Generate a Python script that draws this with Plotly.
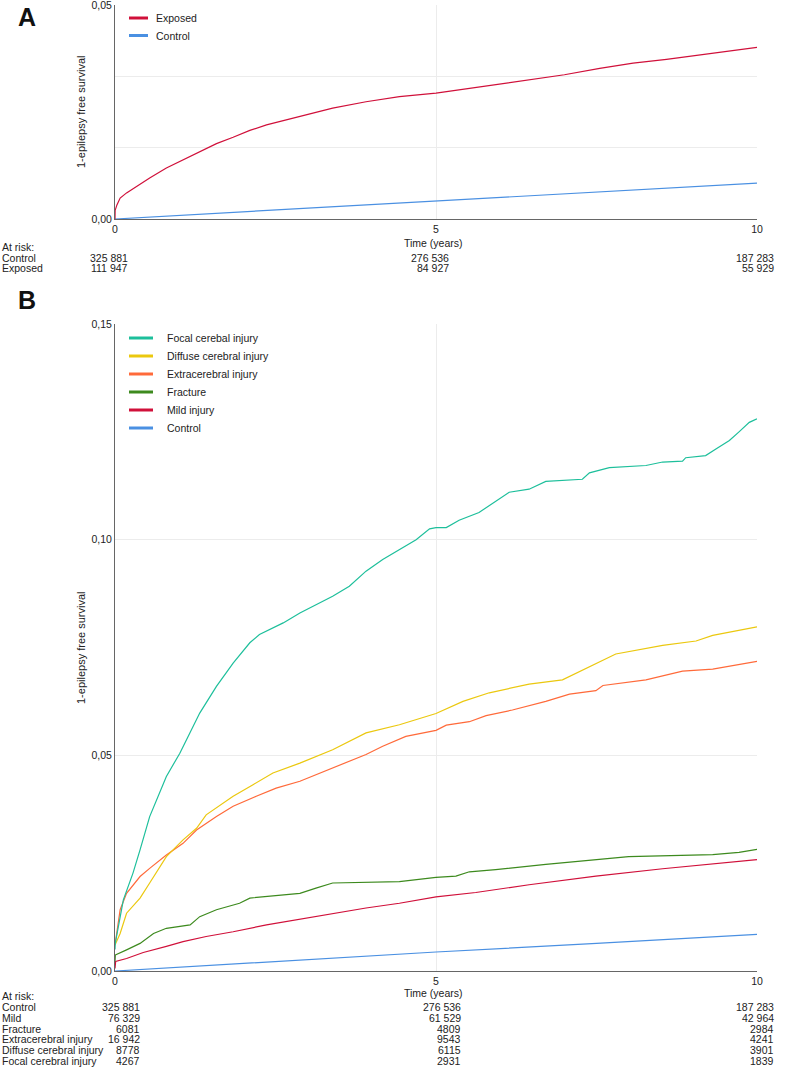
import plotly.graph_objects as go

# ---------------- DATA ----------------
# Panel A
t_exposed = [0, 0.002, 0.03, 0.08, 0.18, 0.28, 0.54, 0.80, 1.06, 1.32, 1.58, 1.84, 2.1, 2.36,
             2.88, 3.39, 3.91, 4.43, 5.0, 6.0, 7.0, 7.55, 8.07, 8.59, 9.11, 9.63, 10]
v_exposed = [0, 0.0020, 0.0033, 0.0049, 0.0061, 0.0071, 0.0096, 0.0119, 0.0138, 0.0158, 0.0176,
             0.0191, 0.0207, 0.0220, 0.0240, 0.0259, 0.0274, 0.0286, 0.0294, 0.0316, 0.0337,
             0.0352, 0.0364, 0.0373, 0.0383, 0.0393, 0.0401]
t_control_a = [0, 2.5, 5, 7.5, 10]
v_control_a = [0, 0.0021, 0.0043, 0.0064, 0.0084]

# Panel B
t_focal = [0, 0.005, 0.13, 0.28, 0.39, 0.54, 0.80, 1.01, 1.32, 1.58, 1.84, 2.1, 2.25, 2.62, 2.88,
           3.13, 3.39, 3.65, 3.91, 4.17, 4.43, 4.69, 4.9, 5.0, 5.16, 5.36, 5.67, 5.93, 6.14, 6.45,
           6.71, 7.28, 7.39, 7.7, 8.27, 8.53, 8.84, 8.89, 9.2, 9.36, 9.57, 9.72, 9.88, 10]
v_focal = [0.005, 0.0065, 0.0165, 0.0227, 0.0281, 0.0358, 0.0451, 0.0505, 0.0598, 0.066, 0.0714,
           0.0761, 0.078, 0.0807, 0.083, 0.085, 0.0869, 0.0892, 0.0927, 0.0954, 0.0977, 0.1,
           0.1025, 0.1028, 0.1028, 0.1045, 0.1063, 0.1088, 0.111, 0.1117, 0.1135, 0.114, 0.1155,
           0.1167, 0.1172, 0.118, 0.1182, 0.119, 0.1195, 0.121, 0.123, 0.125, 0.1272, 0.128]

t_diffuse = [0, 0.08, 0.18, 0.39, 0.54, 0.80, 1.06, 1.27, 1.42, 1.84, 2.15, 2.46, 2.88, 3.39,
             3.91, 4.43, 5.0, 5.42, 5.83, 6.45, 6.97, 7.39, 7.8, 8.53, 9.05, 9.31, 10]
v_diffuse = [0.006, 0.0087, 0.0134, 0.0169, 0.0204, 0.0265, 0.0304, 0.0331, 0.0362, 0.0405,
             0.0432, 0.0459, 0.0482, 0.0513, 0.0552, 0.0571, 0.0597, 0.0625, 0.0645, 0.0665,
             0.0675, 0.0705, 0.0735, 0.0755, 0.0765, 0.0778, 0.0798]

t_extra = [0, 0.08, 0.18, 0.39, 0.54, 0.80, 1.06, 1.27, 1.58, 1.84, 2.2, 2.51, 2.88, 3.39, 3.91,
           4.17, 4.53, 5.0, 5.16, 5.52, 5.78, 6.19, 6.71, 7.08, 7.49, 7.6, 8.27, 8.84, 9.31, 10]
v_extra = [0.006, 0.0142, 0.018, 0.0219, 0.0238, 0.0269, 0.0296, 0.0327, 0.0358, 0.0382, 0.0405,
           0.0424, 0.044, 0.0471, 0.0502, 0.0521, 0.0544, 0.0558, 0.057, 0.0578, 0.0592, 0.0605,
           0.0625, 0.0642, 0.065, 0.0662, 0.0675, 0.0695, 0.07, 0.0718]

t_fracture = [0, 0.005, 0.18, 0.39, 0.6, 0.8, 1.17, 1.32, 1.58, 1.94, 2.1, 2.88, 3.13, 3.39, 4.43,
              5.0, 5.31, 5.52, 5.93, 6.71, 8.0, 9.31, 9.72, 10]
v_fracture = [0.0022, 0.0037, 0.0049, 0.0064, 0.0087, 0.0099, 0.0107, 0.0126, 0.0142, 0.0157,
              0.0169, 0.018, 0.0192, 0.0204, 0.0207, 0.0217, 0.022, 0.023, 0.0235, 0.0247,
              0.0265, 0.027, 0.0275, 0.0282]

t_mild = [0, 0.01, 0.18, 0.44, 0.8, 1.06, 1.42, 1.84, 2.36, 2.88, 3.39, 3.91, 4.43, 5.0, 5.62,
          6.45, 7.49, 8.53, 10]
v_mild = [0.0006, 0.0022, 0.0029, 0.0043, 0.0057, 0.0068, 0.008, 0.0091, 0.0107, 0.012, 0.0134,
          0.0146, 0.0157, 0.0172, 0.0182, 0.02, 0.022, 0.0237, 0.0258]

t_control_b = [0, 2.5, 5, 7.5, 10]
v_control_b = [0, 0.0022, 0.0044, 0.0064, 0.0085]

# Tick labels
x_ticks = [0, 5, 10]
x_ticktext = ["0", "5", "10"]
ya_ticks = [0, 0.05 / 3, 0.1 / 3, 0.05]
ya_ticktext = ["0,00", "", "", "0,05"]
yb_ticks = [0, 0.05, 0.10, 0.15]
yb_ticktext = ["0,00", "0,05", "0,10", "0,15"]

# At-risk tables
risk_a_labels = ["Control", "Exposed"]
risk_a_values = [["325 881", "276 536", "187 283"],
                 ["111 947", "84 927", "55 929"]]
risk_b_labels = ["Control", "Mild", "Fracture", "Extracerebral injury",
                 "Diffuse cerebral injury", "Focal cerebral injury"]
risk_b_values = [["325 881", "276 536", "187 283"],
                 ["76 329", "61 529", "42 964"],
                 ["6081", "4809", "2984"],
                 ["16 942", "9543", "4241"],
                 ["8778", "6115", "3901"],
                 ["4267", "2931", "1839"]]

legend_a = ["Exposed", "Control"]
legend_b = ["Focal cerebal injury", "Diffuse cerebral injury", "Extracerebral injury",
            "Fracture", "Mild injury", "Control"]

# ---------------- STYLE ----------------
W, H = 787, 1067
FONT = "Liberation Sans, Arial, sans-serif"
FS = 10.5
C_RED = "#d0103a"
C_BLUE = "#4a90e2"
C_TEAL = "#1dbf9b"
C_YELLOW = "#ebc80f"
C_ORANGE = "#ff6a3a"
C_GREEN = "#3d8a1e"
TXT = "#222222"
GRID = "#ececec"
AXIS = "#666666"


def px(x):
    return x / W


def py(y):
    return 1 - y / H


fig = go.Figure()

LW = 1.2
# Panel A traces
fig.add_trace(go.Scatter(x=t_control_a, y=v_control_a, mode="lines", line=dict(color=C_BLUE, width=LW),
                         xaxis="x", yaxis="y", showlegend=False))
fig.add_trace(go.Scatter(x=t_exposed, y=v_exposed, mode="lines", line=dict(color=C_RED, width=LW),
                         xaxis="x", yaxis="y", showlegend=False))
# Panel B traces
for t, v, c in [(t_control_b, v_control_b, C_BLUE), (t_mild, v_mild, C_RED),
                (t_fracture, v_fracture, C_GREEN), (t_extra, v_extra, C_ORANGE),
                (t_diffuse, v_diffuse, C_YELLOW), (t_focal, v_focal, C_TEAL)]:
    fig.add_trace(go.Scatter(x=t, y=v, mode="lines", line=dict(color=c, width=LW),
                             xaxis="x2", yaxis="y2", showlegend=False))

xdom = [px(115), px(757)]
common_x = dict(range=[0, 10], tickvals=x_ticks, ticktext=x_ticktext, showgrid=True,
                gridcolor=GRID, gridwidth=1, zeroline=False, showline=True, linecolor=AXIS,
                linewidth=1, ticks="", tickfont=dict(family=FONT, size=FS, color=TXT),
                domain=xdom, fixedrange=True, automargin=False, ticklabeloverflow="allow")
common_y = dict(showgrid=True, gridcolor=GRID, gridwidth=1, zeroline=False, showline=True,
                linecolor=AXIS, linewidth=1, ticks="", tickfont=dict(family=FONT, size=FS, color=TXT),
                fixedrange=True, automargin=False, ticklabeloverflow="allow")

fig.update_layout(
    width=W, height=H,
    margin=dict(l=0, r=0, t=0, b=0, autoexpand=False),
    paper_bgcolor="white", plot_bgcolor="white",
    font=dict(family=FONT, size=FS, color=TXT),
    showlegend=False,
    xaxis=dict(**common_x, anchor="y"),
    yaxis=dict(**common_y, range=[0, 0.05], tickvals=ya_ticks, ticktext=ya_ticktext,
               domain=[py(219), py(5)], anchor="x"),
    xaxis2=dict(**common_x, anchor="y2"),
    yaxis2=dict(**common_y, range=[0, 0.15], tickvals=yb_ticks, ticktext=yb_ticktext,
                domain=[py(971), py(324)], anchor="x2"),
)

ann = []
shapes = []


def text(x, y, s, anchor="left", size=FS, bold=False, angle=0):
    ann.append(dict(xref="paper", yref="paper", x=px(x), y=py(y), text=("<b>%s</b>" % s) if bold else s,
                    showarrow=False, xanchor=anchor, yanchor="middle", textangle=angle,
                    font=dict(family=FONT, size=size, color="#111111" if bold else TXT)))


# Panel letters
text(16, 17, "A", size=25, bold=True)
text(16, 300, "B", size=25, bold=True)

# Axis titles
text(433, 243, "Time (years)", anchor="center")
text(433, 993, "Time (years)", anchor="center")
text(81, 112, "1-epilepsy free survival", anchor="center", angle=-90, size=11)
text(81, 648, "1-epilepsy free survival", anchor="center", angle=-90, size=11)

# Legend A
leg_colors_a = [C_RED, C_BLUE]
for i, (lab, col) in enumerate(zip(legend_a, leg_colors_a)):
    y = 18 + i * 17.5
    shapes.append(dict(type="line", xref="paper", yref="paper", x0=px(129), x1=px(148), y0=py(y), y1=py(y),
                       line=dict(color=col, width=3)))
    text(154, y, lab)

# Legend B
leg_colors_b = [C_TEAL, C_YELLOW, C_ORANGE, C_GREEN, C_RED, C_BLUE]
for i, (lab, col) in enumerate(zip(legend_b, leg_colors_b)):
    y = 338 + i * 18
    shapes.append(dict(type="line", xref="paper", yref="paper", x0=px(129), x1=px(153), y0=py(y), y1=py(y),
                       line=dict(color=col, width=3)))
    text(165, y, lab)

# At-risk table A
text(0, 247, "At risk:")
cols_a = [130, 451, 776]
for i, lab in enumerate(risk_a_labels):
    y = 257.5 + i * 10.8
    text(0, y, lab)
    for j, v in enumerate(risk_a_values[i]):
        text(cols_a[j], y, v, anchor="right")

# At-risk table B
text(0, 996, "At risk:")
cols_b = [142, 463, 776]
for i, lab in enumerate(risk_b_labels):
    y = 1007 + i * 10.8
    text(0, y, lab)
    for j, v in enumerate(risk_b_values[i]):
        text(cols_b[j], y, v, anchor="right")

fig.update_layout(annotations=ann, shapes=shapes)
fig.write_html(
    "out.html",
    config={"displayModeBar": False, "staticPlot": True},
    post_script="document.body.style.margin='0';document.body.style.overflow='hidden';",
)
